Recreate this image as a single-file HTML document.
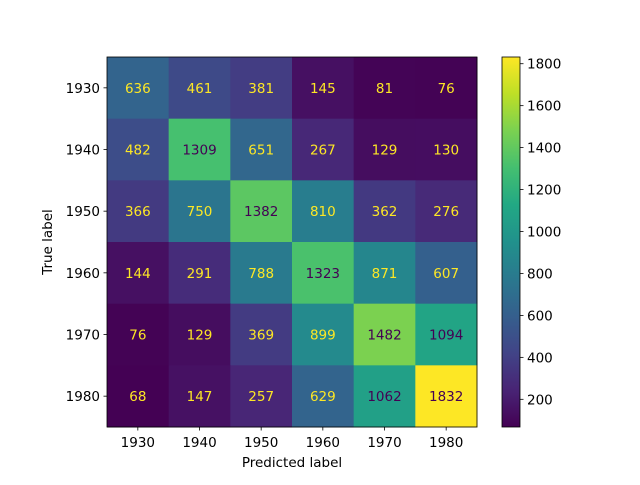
<!DOCTYPE html>
<html><head><meta charset="utf-8"><style>
body{margin:0;background:#fff;}
svg text{font-family:"DejaVu Sans","Liberation Sans",sans-serif;font-size:13.5px;}
</style></head><body>
<svg id="chart" width="640" height="480" xmlns="http://www.w3.org/2000/svg">
<defs><linearGradient id="vg" x1="0" y1="1" x2="0" y2="0">
<stop offset="0" stop-color="#440154"/><stop offset="0.1" stop-color="#482475"/><stop offset="0.2" stop-color="#414487"/><stop offset="0.3" stop-color="#355f8d"/><stop offset="0.4" stop-color="#2a788e"/><stop offset="0.5" stop-color="#21918c"/><stop offset="0.6" stop-color="#22a884"/><stop offset="0.7" stop-color="#44bf70"/><stop offset="0.8" stop-color="#7ad151"/><stop offset="0.9" stop-color="#bddf26"/><stop offset="1" stop-color="#fde725"/>
</linearGradient></defs>
<g id="cells"></g>
</svg>
<script>
const labels = ["1930","1940","1950","1960","1970","1980"];
const matrix = [
[636,461,381,145,81,76],
[482,1309,651,267,129,130],
[366,750,1382,810,362,276],
[144,291,788,1323,871,607],
[76,129,369,899,1482,1094],
[68,147,257,629,1062,1832]];
const cbTicks = [200,400,600,800,1000,1200,1400,1600,1800];

const NS="http://www.w3.org/2000/svg";
const svg=document.getElementById('chart');
const g=document.getElementById('cells');
const X0=107,Y0=57,W=370,H=370,n=labels.length,cw=W/n,ch=H/n;
const flat=matrix.flat(),vmin=Math.min(...flat),vmax=Math.max(...flat),thr=(vmin+vmax)/2;
const stops=["#440154","#482475","#414487","#355f8d","#2a788e","#21918c","#22a884","#44bf70","#7ad151","#bddf26","#fde725"].map(h=>[1,3,5].map(i=>parseInt(h.substr(i,2),16)));
function viridis(t){t=Math.max(0,Math.min(1,t))*10;const i=Math.min(9,Math.floor(t)),f=t-i;const c=stops[i].map((v,k)=>Math.round(v+(stops[i+1][k]-v)*f));return `rgb(${c})`;}
function el(tag,attrs,text){const e=document.createElementNS(NS,tag);for(const k in attrs)e.setAttribute(k,attrs[k]);if(text!==undefined)e.textContent=text;return e;}
const xs=j=>X0+j*cw, ys=i=>Y0+i*ch;
matrix.forEach((row,i)=>row.forEach((v,j)=>{
 const r=el('rect',{x:xs(j),y:ys(i),width:cw+0.5,height:ch+0.5,fill:viridis((v-vmin)/(vmax-vmin))});
 
 
 g.appendChild(r);
 const t=el('text',{x:xs(j)+cw/2,y:ys(i)+ch/2+5,'text-anchor':'middle',fill:v>thr?'#440154':'#fde725'},v);
 
 
 g.appendChild(t);
}));
const frame=el('rect',{x:X0,y:Y0,width:W,height:H,fill:'none',stroke:'#000','stroke-width':0.8});
svg.appendChild(frame);
labels.forEach((l,k)=>{
 const cx=xs(k)+cw/2;
 svg.appendChild(el('line',{x1:cx,x2:cx,y1:Y0+H,y2:Y0+H+3.5,stroke:'#000','stroke-width':0.8}));
 const tx=el('text',{x:cx,y:Y0+H+20,'text-anchor':'middle',fill:'#000'},l);
 svg.appendChild(tx);
 const cy=ys(k)+ch/2;
 svg.appendChild(el('line',{x1:X0-3.5,x2:X0,y1:cy,y2:cy,stroke:'#000','stroke-width':0.8}));
 const ty=el('text',{x:X0-7,y:cy+5,'text-anchor':'end',fill:'#000'},l);
 svg.appendChild(ty);
});
const xt=el('text',{x:X0+W/2,y:467,'text-anchor':'middle'},'Predicted label');
svg.appendChild(xt);
const yt=el('text',{x:52,y:Y0+H/2,'text-anchor':'middle',transform:`rotate(-90 52 ${Y0+H/2})`},'True label');
svg.appendChild(yt);
// colorbar
const CX=502,CW=18;
const cb=el('rect',{x:CX,y:Y0,width:CW,height:H,fill:'url(#vg)',stroke:'#000','stroke-width':0.8});
svg.appendChild(cb);
const cby=v=>Y0+H-(v-vmin)/(vmax-vmin)*H;
cbTicks.forEach(v=>{
 const y=cby(v);
 svg.appendChild(el('line',{x1:CX+CW,x2:CX+CW+3.5,y1:y,y2:y,stroke:'#000','stroke-width':0.8}));
 const t=el('text',{x:CX+CW+7,y:y+5,fill:'#000'},v);
 svg.appendChild(t);
});
</script>
</body></html>
